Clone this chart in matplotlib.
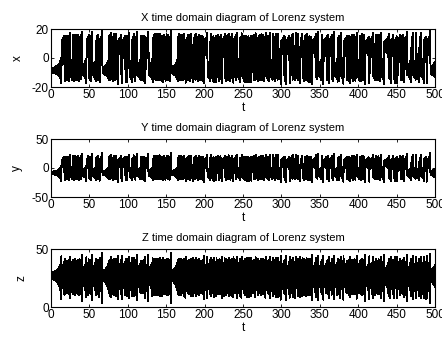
import numpy as np
import matplotlib
matplotlib.use("Agg")
import matplotlib.pyplot as plt

# Lorenz system definition (the chart is a simulated trajectory of it)
sigma = 10.0
rho = 28.0
beta = 8.0 / 3.0
x0 = [-7.0, -8.0, 25.0]
t_end = 500.0
dt = 0.01

titles = ["X time domain diagram of Lorenz system",
          "Y time domain diagram of Lorenz system",
          "Z time domain diagram of Lorenz system"]
ylabels = ["x", "y", "z"]
ylims = [(-20, 20), (-50, 50), (0, 50)]
yticks = [[-20, 0, 20], [-50, 0, 50], [0, 50]]
xticks = [0, 50, 100, 150, 200, 250, 300, 350, 400, 450, 500]


def lorenz(s):
    x, y, z = s
    return np.array([sigma * (y - x), x * (rho - z) - y, x * y - beta * z])


n = int(round(t_end / dt))
t = np.linspace(0, t_end, n + 1)
sol = np.zeros((n + 1, 3))
sol[0] = x0
for i in range(n):
    s = sol[i]
    k1 = lorenz(s)
    k2 = lorenz(s + dt / 2 * k1)
    k3 = lorenz(s + dt / 2 * k2)
    k4 = lorenz(s + dt * k3)
    sol[i + 1] = s + dt / 6 * (k1 + 2 * k2 + 2 * k3 + k4)

plt.rcParams['font.family'] = ['Liberation Sans', 'DejaVu Sans']
plt.rcParams['font.size'] = 8.5
plt.rcParams['axes.unicode_minus'] = False

fig = plt.figure(figsize=(4.42, 3.39), dpi=100)
bottoms = [1 - 87 / 339, 1 - 197 / 339, 1 - 307 / 339]
height = 58 / 339
left = 51 / 442
width = (435 - 51) / 442

for k in range(3):
    ax = fig.add_axes([left, bottoms[k], width, height])
    ax.plot(t, sol[:, k], color='black', linewidth=0.7, antialiased=False)
    ax.set_xlim(0, 500)
    ax.set_ylim(*ylims[k])
    ax.set_xticks(xticks)
    ax.set_yticks(yticks[k])
    ax.tick_params(direction='in', length=2.5, width=0.6, top=True, right=True, pad=1.5)
    for sp in ax.spines.values():
        sp.set_linewidth(0.8)
    ax.set_title(titles[k], fontsize=8, pad=6)
    ax.set_xlabel("t", labelpad=1)
    ax.set_ylabel(ylabels[k], labelpad=6)

fig.savefig("out.png", dpi=100)
